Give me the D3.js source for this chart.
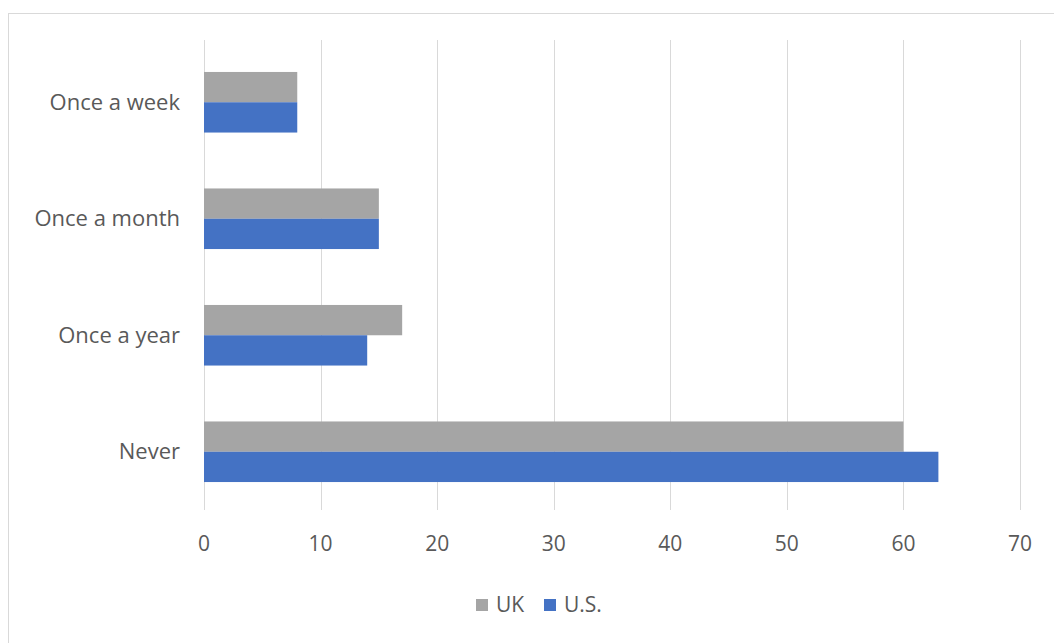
<!DOCTYPE html>
<html>
<head>
<meta charset="utf-8">
<script src="https://cdn.jsdelivr.net/npm/d3@7"></script>
<style>
  body { margin: 0; background: #fff; }
  text { font-family: "Open Sans", "Noto Sans", sans-serif; fill: #595959; }
</style>
</head>
<body>
<div id="chart"></div>
<script>
// Data
var categories = ["Once a week", "Once a month", "Once a year", "Never"];
var seriesNames = ["UK", "U.S."];
var ukValues = [8, 15, 17, 60];
var usValues = [8, 15, 14, 63];
var xTicks = [0, 10, 20, 30, 40, 50, 60, 70];

var colors = { "UK": "#a5a5a5", "U.S.": "#4472c4" };

var svgWidth = 1054;
var svgHeight = 643;

var margin = { top: 44, right: 34, bottom: 133, left: 204 };
var width = svgWidth - margin.left - margin.right;
var height = svgHeight - margin.top - margin.bottom;

var svg = d3.select("#chart")
    .append("svg")
    .attr("width", svgWidth)
    .attr("height", svgHeight);

// chart frame
svg.append("rect")
    .attr("x", 8.5)
    .attr("y", 13.5)
    .attr("width", svgWidth)
    .attr("height", svgHeight)
    .attr("fill", "none")
    .attr("stroke", "#d9d9d9");

var chartGroup = svg.append("g")
    .attr("transform", `translate(${margin.left}, ${margin.top})`);

var xScale = d3.scaleLinear()
    .domain([0, 70])
    .range([0, width]);

var yScale = d3.scaleBand()
    .domain(categories)
    .range([0, height])
    .paddingInner(0.48)
    .paddingOuter(0.24);

var inner = d3.scaleBand()
    .domain(seriesNames)
    .range([0, yScale.bandwidth()]);

// gridlines
chartGroup.append("g").selectAll("line")
    .data(xTicks)
    .enter()
    .append("line")
    .attr("x1", d => Math.round(xScale(d)) + 0.5)
    .attr("x2", d => Math.round(xScale(d)) + 0.5)
    .attr("y1", -4)
    .attr("y2", height)
    .attr("stroke", "#d9d9d9")
    .attr("stroke-width", 1);

// x tick labels
chartGroup.append("g").selectAll("text")
    .data(xTicks)
    .enter()
    .append("text")
    .attr("x", d => xScale(d))
    .attr("y", height + 41)
    .attr("text-anchor", "middle")
    .attr("font-size", "21px")
    .text(d => d);

// category labels
chartGroup.append("g").selectAll("text")
    .data(categories)
    .enter()
    .append("text")
    .attr("x", -24)
    .attr("y", d => yScale(d) + yScale.bandwidth() / 2)
    .attr("dy", "0.35em")
    .attr("text-anchor", "end")
    .attr("font-size", "22px")
    .text(d => d);

// bars
var rows = categories.map(function(c, i) {
    return { cat: c, values: [{ key: "UK", v: ukValues[i] }, { key: "U.S.", v: usValues[i] }] };
});

var groups = chartGroup.selectAll(".row")
    .data(rows)
    .enter()
    .append("g")
    .attr("transform", d => `translate(0, ${yScale(d.cat)})`);

groups.selectAll("rect")
    .data(d => d.values)
    .enter()
    .append("rect")
    .attr("x", xScale(0))
    .attr("y", d => inner(d.key))
    .attr("width", d => xScale(d.v) - xScale(0))
    .attr("height", inner.bandwidth())
    .attr("fill", d => colors[d.key]);

// legend
var legendItems = [
    { key: "UK", x: 476 },
    { key: "U.S.", x: 544 }
];
var legend = svg.append("g");
legend.selectAll("rect")
    .data(legendItems)
    .enter()
    .append("rect")
    .attr("x", d => d.x)
    .attr("y", 599)
    .attr("width", 12)
    .attr("height", 12)
    .attr("fill", d => colors[d.key]);
legend.selectAll("text")
    .data(legendItems)
    .enter()
    .append("text")
    .attr("x", d => d.x + 20)
    .attr("y", 605)
    .attr("dy", "0.35em")
    .attr("font-size", "21px")
    .text(d => d.key);
</script>
</body>
</html>
